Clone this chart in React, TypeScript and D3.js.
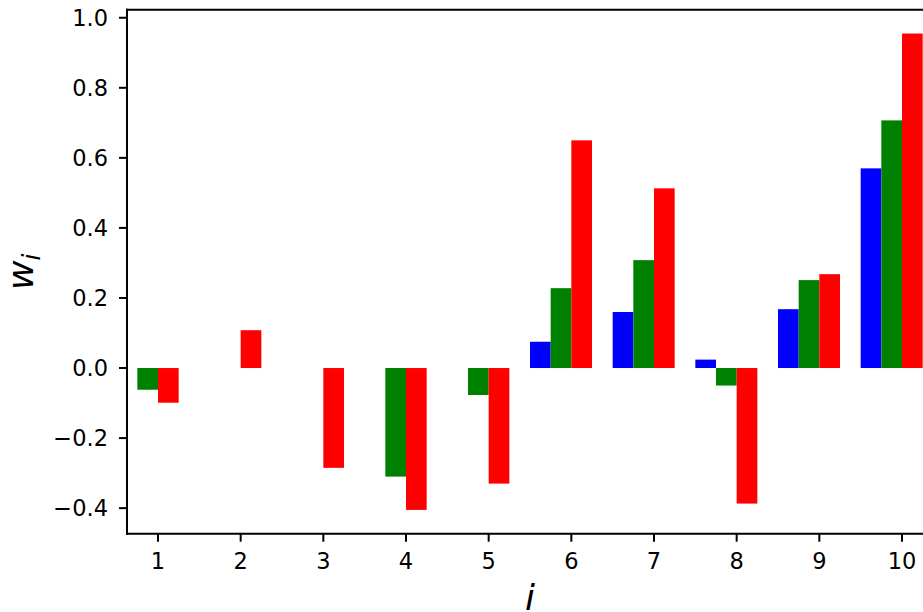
import React from "react";
import * as d3 from "d3";

const categories = [1, 2, 3, 4, 5, 6, 7, 8, 9, 10];
const blueValues = [0, 0, 0, 0, 0, 0.075, 0.16, 0.024, 0.168, 0.57];
const greenValues = [-0.062, 0, 0, -0.31, -0.077, 0.228, 0.308, -0.05, 0.251, 0.707];
const redValues = [-0.099, 0.108, -0.285, -0.405, -0.33, 0.65, 0.513, -0.387, 0.268, 0.955];
const yTicks = [-0.4, -0.2, 0, 0.2, 0.4, 0.6, 0.8, 1.0];

const series = [
  { values: blueValues, color: "#0000ff", offset: -0.5 },
  { values: greenValues, color: "#008000", offset: -0.25 },
  { values: redValues, color: "#ff0000", offset: 0 },
];

const W = 923;
const H = 612;
const left = 127;
const right = 933;
const top = 9.7;
const bottom = 533.7;
const barW = 0.25;

export default function App() {
  const all = [...blueValues, ...greenValues, ...redValues, 0];
  const mn = d3.min(all) as number;
  const mx = d3.max(all) as number;
  const pad = (mx - mn) * 0.05;
  const x = d3.scaleLinear().domain([0.625, 10.375]).range([left, right]);
  const y = d3.scaleLinear().domain([mn - pad, mx + pad]).range([bottom, top]);
  const fmt = (v: number) => (v < 0 ? "\u2212" : "") + Math.abs(v).toFixed(1);
  const font = "DejaVu Sans";
  return (
    <svg width={W} height={H} style={{ position: "absolute", left: 0, top: 0, background: "#fff" }}>
      <rect x={0} y={0} width={W} height={H} fill="#fff" />
      {series.map((s, si) =>
        s.values.map((v, i) => {
          const c = categories[i];
          const x0 = x(c + s.offset);
          const x1 = x(c + s.offset + barW);
          const y0 = y(Math.max(v, 0));
          const y1 = y(Math.min(v, 0));
          return (
            <rect key={`${si}-${i}`} x={x0} y={y0} width={x1 - x0} height={Math.max(0, y1 - y0)} fill={s.color} />
          );
        })
      )}
      {/* spines */}
      <line x1={left} x2={left} y1={top} y2={bottom} stroke="#000" strokeWidth={2} strokeLinecap="square" />
      <line x1={left} x2={right} y1={bottom} y2={bottom} stroke="#000" strokeWidth={2} strokeLinecap="square" />
      <line x1={left} x2={right} y1={top} y2={top} stroke="#000" strokeWidth={2} strokeLinecap="square" />
      <line x1={right} x2={right} y1={top} y2={bottom} stroke="#000" strokeWidth={2} />
      {/* y ticks */}
      {yTicks.map((t) => (
        <g key={t}>
          <line x1={left - 8} x2={left} y1={y(t)} y2={y(t)} stroke="#000" strokeWidth={2} />
          <text x={left - 19} y={y(t)} dy="0.36em" textAnchor="end" fontFamily={font} fontSize={22.5} fill="#000">
            {fmt(t)}
          </text>
        </g>
      ))}
      {/* x ticks */}
      {categories.map((c) => (
        <g key={c}>
          <line x1={x(c)} x2={x(c)} y1={bottom} y2={bottom + 8} stroke="#000" strokeWidth={2} />
          <text x={x(c)} y={bottom + 35} textAnchor="middle" fontFamily={font} fontSize={22.5} fill="#000">
            {c}
          </text>
        </g>
      ))}
      {/* axis labels */}
      <text x={(left + right) / 2} y={610} textAnchor="middle" fontFamily={font} fontStyle="italic" fontSize={36} fill="#000">
        i
      </text>
      <text
        transform={`translate(33, ${(top + bottom) / 2}) rotate(-90)`}
        textAnchor="middle"
        fontFamily={font}
        fontStyle="italic"
        fontSize={36}
        fill="#000"
      >
        w<tspan fontSize={25} dy={7}>i</tspan>
      </text>
    </svg>
  );
}
